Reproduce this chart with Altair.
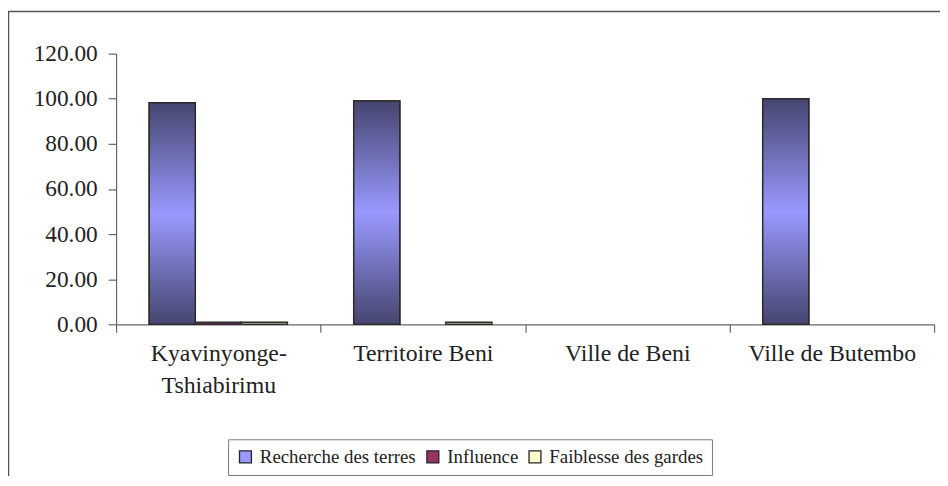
import altair as alt
import pandas as pd

categories = ["Kyavinyonge-Tshiabirimu", "Territoire Beni", "Ville de Beni", "Ville de Butembo"]
series = ["Recherche des terres", "Influence", "Faiblesse des gardes"]
recherche = [98.2, 99.0, 0.0, 100.0]
influence = [0.9, 0.0, 0.0, 0.0]
faiblesse = [0.9, 0.9, 0.0, 0.0]
colors = ["#9999ff", "#993366", "#ffffcc"]
y_ticks = [0, 20, 40, 60, 80, 100, 120]

rows = []
for i, c in enumerate(categories):
    for s, vals in zip(series, [recherche, influence, faiblesse]):
        rows.append({"cat": c, "series": s, "value": vals[i]})
df = pd.DataFrame(rows)

W, H = 825, 273
FONT = "Liberation Serif, Times New Roman, DejaVu Serif, serif"

x_enc = alt.X("cat:N", sort=categories, title=None,
              scale=alt.Scale(domain=categories, paddingInner=0, paddingOuter=0),
              axis=alt.Axis(labelAngle=0, tickBand="extent", tickSize=8, labelFontSize=24,
                            labelPadding=10, labelLineHeight=32, labelBaseline="top",
                            labelExpr="indexof(datum.label,'-')>=0 ? [slice(datum.label,0,indexof(datum.label,'-')+1), slice(datum.label,indexof(datum.label,'-')+1)] : datum.label"))
xo_enc = alt.XOffset("series:N", sort=series,
                     scale=alt.Scale(domain=series, paddingInner=0, paddingOuter=0.72))
y_enc = alt.Y("value:Q", title=None,
              scale=alt.Scale(domain=[0, 120], nice=False),
              axis=alt.Axis(values=y_ticks, format=".2f", tickSize=8, labelPadding=11,
                            labelFontSize=23.5, grid=False))

base = alt.Chart(df).transform_filter(alt.datum.value > 0).mark_bar(
    stroke="#2b2b2b", strokeWidth=1.5).encode(
    x=x_enc, xOffset=xo_enc, y=y_enc,
    color=alt.Color("series:N", sort=series,
                    scale=alt.Scale(domain=series, range=colors),
                    legend=alt.Legend(title=None, orient="none", direction="horizontal",
                                      legendX=113, legendY=389,
                                      symbolType="square", symbolSize=144,
                                      symbolStrokeColor="#222", symbolStrokeWidth=1.3,
                                      labelFont=FONT, labelFontSize=19, labelColor="#222",
                                      labelLimit=400,
                                      strokeColor="#777", padding=8, columnPadding=7,
                                      labelOffset=5, fillColor="white")),
)

grad = alt.LinearGradient(
    gradient="linear", x1=0, x2=0, y1=0, y2=1,
    stops=[alt.GradientStop(color="#45456f", offset=0),
           alt.GradientStop(color="#9999ff", offset=0.5),
           alt.GradientStop(color="#45456f", offset=1)])

over = alt.Chart(df).transform_filter(
    (alt.datum.series == series[0]) & (alt.datum.value > 0)).mark_bar(
    fill=grad, stroke="#2b2b2b", strokeWidth=1.5).encode(
    x=x_enc, xOffset=xo_enc, y=y_enc)

frame_df = pd.DataFrame({"k": [0]})
top_line = alt.Chart(frame_df).mark_rule(color="#555", strokeWidth=1.5).encode(
    x=alt.value(-109), x2=alt.value(940 - 109), y=alt.value(-42.5))
left_line = alt.Chart(frame_df).mark_rule(color="#555", strokeWidth=1.5).encode(
    x=alt.value(-108.5), y=alt.value(-42.5), y2=alt.value(470 - 44))

chart = alt.layer(top_line, left_line, base, over).properties(
    width=W, height=H,
    autosize=alt.AutoSizeParams(type="none"),
    padding={"left": 109, "top": 44, "right": 6, "bottom": 153},
).configure_view(stroke=None).configure_axis(
    labelFont=FONT, labelColor="#222",
    domainColor="#666", tickColor="#666", domainWidth=1.2, tickWidth=1.2,
).configure_legend(labelFont=FONT)

chart.save("out.html", embed_options={"renderer": "svg", "actions": False})
